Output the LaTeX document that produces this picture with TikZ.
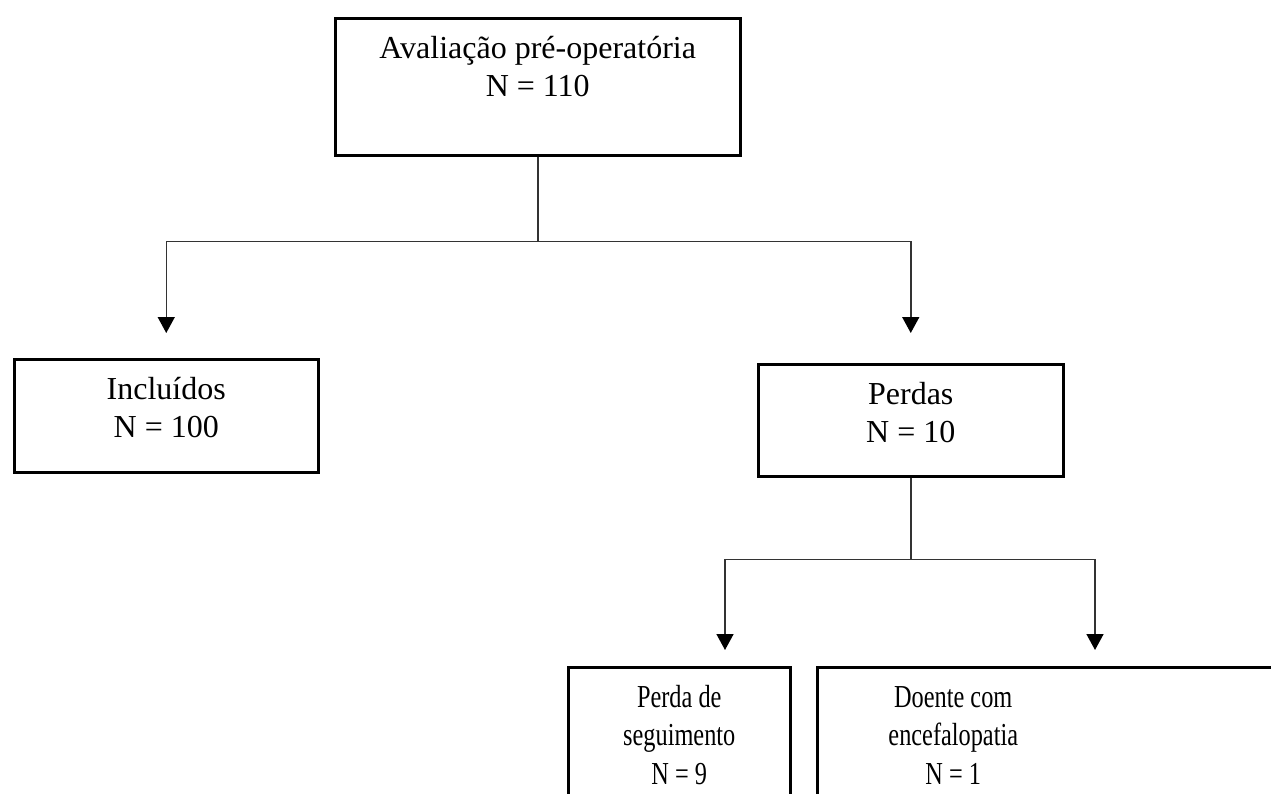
\documentclass[tikz,border=0pt]{standalone}
\usepackage{fontspec}
\setmainfont{Liberation Serif}
\newfontfamily\fonteestreita[FakeStretch=0.76]{Liberation Serif}
\usetikzlibrary{arrows.meta}

% texto de cada caixa: largura, altura, linhas
\newcommand{\caixatexto}[3]{\parbox[t][#2][t]{#1}{\centering\rule{0pt}{40pt}#3}}

\begin{document}
\begin{tikzpicture}[x=1pt, y=-1pt,
    caixa/.style={draw, line width=2.5pt, inner sep=0pt, anchor=north west,
      font=\fontsize{32}{38.5}\selectfont},
    ligacao/.style={line width=1.5pt, draw=black!80},
    seta/.style={ligacao, -{Triangle[width=17pt, length=16pt, color=black]}}]
    \useasboundingbox (0,0) rectangle (1271,793);
    \clip (0,0) rectangle (1271,793);

    % Caixas
    \node[caixa] (aval) at (334,17)
      {\caixatexto{405pt}{137pt}{Avalia\c{c}\~ao pr\'e-operat\'oria\\N = 110}};
    \node[caixa] (incluidos) at (13,358)
      {\caixatexto{304pt}{113pt}{Inclu\'idos\\N = 100}};
    \node[caixa] (perdas) at (757,363)
      {\caixatexto{305pt}{112pt}{Perdas\\N = 10}};
    \node[caixa] (seguimento) at (567,666)
      {\caixatexto{222pt}{150pt}{\fonteestreita Perda de\\seguimento\\N = 9}};
    \node[caixa] (encefalopatia) at (816,666)
      {\caixatexto{272pt}{150pt}{\fonteestreita Doente com\\encefalopatia\\N = 1}\kern250pt};

    % Pontos de ramifica\c{c}\~ao e pontas das setas
    \path (aval.south) ++(0,85) coordinate (ramoA);
    \path (incluidos.north) ++(0,-25) coordinate (pontaI);
    \path (perdas.north) ++(0,-30) coordinate (pontaP);
    \path (perdas.south) ++(0,82) coordinate (ramoB);
    \coordinate (pontaS) at (725,650);
    \coordinate (pontaE) at (1095,650);

    % Liga\c{c}\~oes
    \draw[ligacao] (aval.south) -- (ramoA);
    \draw[seta] (ramoA) -| (pontaI);
    \draw[seta] (ramoA) -| (pontaP);
    \draw[ligacao] (perdas.south) -- (ramoB);
    \draw[seta] (ramoB) -| (pontaS);
    \draw[seta] (ramoB) -| (pontaE);
\end{tikzpicture}
\end{document}
